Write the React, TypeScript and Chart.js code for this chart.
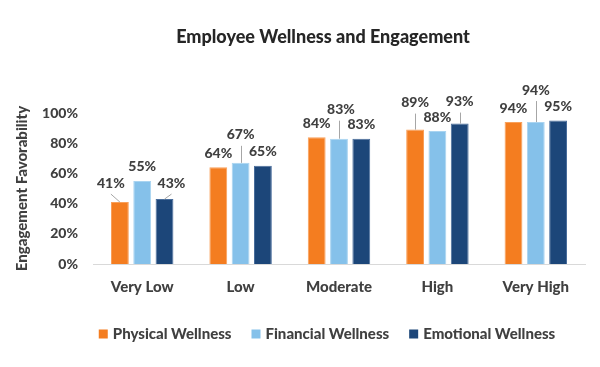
import React, { useEffect, useRef } from "react";
import { Chart, registerables } from "chart.js";

Chart.register(...registerables);

const categories = ["Very Low", "Low", "Moderate", "High", "Very High"];
const seriesNames = ["Physical Wellness", "Financial Wellness", "Emotional Wellness"];
const physical = [41, 64, 84, 89, 94];
const financial = [55, 67, 83, 88, 94];
const emotional = [43, 65, 83, 93, 95];
const yTickValues = [0, 20, 40, 60, 80, 100];
const chartTitle = "Employee Wellness and Engagement";
const yAxisTitle = "Engagement Favorability";

const colors = ["#F47D20", "#85C1EA", "#1C4679"];
const borderColors = ["#F9A05A", "#A9D4F1", "#4A6E9C"];
const FONT = "Lato";
const W = "900";
const TEXT = "#404040";

// label offsets [dx, dy, leaderLine] per dataset per category (styling only)
const labelOffsets = [
  [[-9, -5, 1], [0, 0, 0], [0, 0, 0], [0, -13, 1], [0, 0, 0]],
  [[0, 0, 0], [0, -14, 1], [2, -15, 1], [0, 0, 0], [0, -18, 1]],
  [[7, -2, 1], [0, 0, 0], [0, 0, 0], [0, -8, 1], [0, 0, 0]],
];

const dataLabelPlugin = {
  id: "dataLabels",
  afterDatasetsDraw(chart: any) {
    const ctx = chart.ctx;
    ctx.save();
    chart.data.datasets.forEach((ds: any, di: number) => {
      const meta = chart.getDatasetMeta(di);
      meta.data.forEach((bar: any, i: number) => {
        const [dx, dy, leader] = labelOffsets[di][i];
        const lx = bar.x + dx;
        const ly = bar.y - 14 + dy;
        if (leader) {
          ctx.strokeStyle = "#A6A6A6";
          ctx.lineWidth = 1;
          ctx.beginPath();
          if (Math.abs(dx) < 3) {
            const x = Math.round(bar.x) + 0.5;
            ctx.moveTo(x, bar.y);
            ctx.lineTo(x, ly + 11);
          } else {
            ctx.moveTo(bar.x, bar.y);
            ctx.lineTo(lx, ly + 11);
          }
          ctx.stroke();
        }
        ctx.fillStyle = TEXT;
        ctx.font = `${W} 14px ${FONT}`;
        ctx.textAlign = "center";
        ctx.textBaseline = "middle";
        ctx.fillText(ds.data[i] + "%", lx, ly);
      });
    });
    ctx.restore();
  },
};

const titleLegendPlugin = {
  id: "titleLegend",
  afterDraw(chart: any) {
    const ctx = chart.ctx;
    ctx.save();
    ctx.fillStyle = "#262626";
    ctx.font = `${W} 18px ${FONT}`;
    ctx.textAlign = "center";
    ctx.textBaseline = "middle";
    ctx.fillText(chartTitle, 323, 37);
    ctx.font = `${W} 15px ${FONT}`;
    const box = 9;
    const boxGap = 5;
    const itemGap = 20;
    const widths = seriesNames.map((n) => ctx.measureText(n).width);
    const total =
      widths.reduce((a, w) => a + box + boxGap + w, 0) + itemGap * (seriesNames.length - 1);
    let x = 327 - total / 2;
    const y = 334;
    ctx.textAlign = "left";
    seriesNames.forEach((n, i) => {
      ctx.fillStyle = colors[i];
      ctx.fillRect(x, y - box / 2, box, box);
      ctx.fillStyle = TEXT;
      ctx.fillText(n, x + box + boxGap, y);
      x += box + boxGap + widths[i] + itemGap;
    });
    ctx.restore();
  },
};

export default function App() {
  const ref = useRef<HTMLCanvasElement>(null);
  useEffect(() => {
    if (!ref.current) return;
    const seriesData = [physical, financial, emotional];
    const chart = new Chart(ref.current, {
      type: "bar",
      data: {
        labels: categories,
        datasets: seriesNames.map((name, i) => ({
          label: name,
          data: seriesData[i],
          backgroundColor: colors[i],
          borderColor: borderColors[i],
          borderWidth: 1,
          barPercentage: 0.8,
          categoryPercentage: 0.68,
        })),
      },
      options: {
        responsive: false,
        animation: false,
        devicePixelRatio: 1,
        layout: { padding: { top: 113, bottom: 63, left: 0, right: 15 } },
        plugins: {
          legend: { display: false },
          title: { display: false },
          tooltip: { enabled: false },
        },
        scales: {
          x: {
            grid: { display: false, drawTicks: false },
            border: { display: true, color: "#D9D9D9", width: 1 },
            ticks: {
              color: TEXT,
              font: { family: FONT, size: 15, weight: W },
              padding: 14,
            },
            afterFit(scale: any) {
              scale.height = 40;
            },
          },
          y: {
            min: 0,
            max: 100,
            grid: { display: false, drawTicks: false },
            border: { display: false },
            afterBuildTicks(scale: any) {
              scale.ticks = yTickValues.map((v) => ({ value: v }));
            },
            ticks: {
              color: TEXT,
              font: { family: FONT, size: 14, weight: W },
              padding: 15,
              callback: (v: any) => v + "%",
            },
            title: {
              display: true,
              text: yAxisTitle,
              color: TEXT,
              font: { family: FONT, size: 15, weight: W },
              padding: { top: 13, bottom: 0 },
            },
            afterFit(scale: any) {
              scale.width = 93;
            },
          },
        },
      },
      plugins: [dataLabelPlugin, titleLegendPlugin],
    });
    return () => chart.destroy();
  }, []);
  return (
    <div style={{ position: "absolute", left: 0, top: 0, width: 600, height: 367, background: "#fff" }}>
      <canvas ref={ref} width={600} height={367} />
    </div>
  );
}
